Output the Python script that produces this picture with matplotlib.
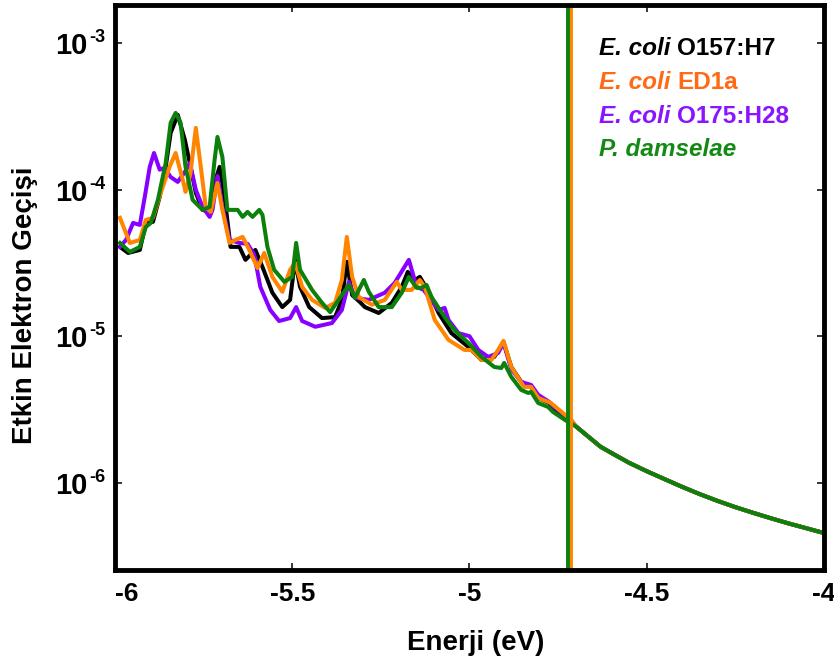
import matplotlib
matplotlib.use("Agg")
import matplotlib.pyplot as plt
from matplotlib.ticker import NullLocator

plt.rcParams['font.family'] = ['Liberation Sans', 'DejaVu Sans']
plt.rcParams['font.weight'] = 'bold'

# values
e_black = [-5.986, -5.963, -5.930, -5.913, -5.893, -5.874, -5.857, -5.843, -5.823, -5.803,
           -5.789, -5.772, -5.753, -5.733, -5.719, -5.705, -5.691, -5.674, -5.649, -5.632,
           -5.604, -5.584, -5.556, -5.528, -5.506, -5.492, -5.478, -5.452, -5.416, -5.379,
           -5.360, -5.346, -5.331, -5.309, -5.295, -5.256, -5.219, -5.191, -5.174, -5.154,
           -5.140, -5.115, -5.087, -5.051, -5.003, -4.966, -4.930, -4.904, -4.882, -4.854,
           -4.826, -4.806, -4.775, -4.742, -4.713]
t_black = [4.07e-5, 3.70e-5, 3.88e-5, 5.93e-5, 6.03e-5, 8.93e-5, 1.43e-4, 2.44e-4, 3.24e-4, 2.19e-4,
           1.52e-4, 9.51e-5, 7.28e-5, 7.05e-5, 1.11e-4, 1.43e-4, 8.93e-5, 4.07e-5, 4.07e-5, 3.32e-5,
           3.88e-5, 2.97e-5, 1.98e-5, 1.58e-5, 1.77e-5, 3.32e-5, 2.17e-5, 1.58e-5, 1.33e-5, 1.35e-5,
           1.77e-5, 3.22e-5, 1.91e-5, 1.71e-5, 1.58e-5, 1.44e-5, 1.69e-5, 2.17e-5, 2.75e-5, 2.42e-5,
           2.54e-5, 2.01e-5, 1.44e-5, 1.05e-5, 8.45e-6, 6.89e-6, 7.22e-6, 9.14e-6, 6.17e-6, 4.88e-6,
           4.51e-6, 3.79e-6, 3.50e-6, 2.90e-6, 2.60e-6]

e_orange = [-5.986, -5.958, -5.930, -5.913, -5.893, -5.871, -5.846, -5.829, -5.809, -5.801,
            -5.787, -5.772, -5.758, -5.744, -5.730, -5.711, -5.697, -5.677, -5.660, -5.640,
            -5.621, -5.598, -5.579, -5.556, -5.528, -5.506, -5.492, -5.472, -5.444, -5.407,
            -5.379, -5.360, -5.346, -5.331, -5.312, -5.275, -5.239, -5.205, -5.191, -5.163,
            -5.140, -5.126, -5.098, -5.059, -5.014, -4.994, -4.966, -4.938, -4.919, -4.904,
            -4.882, -4.846, -4.826, -4.806, -4.770, -4.713]
t_orange = [6.42e-5, 4.33e-5, 4.54e-5, 6.22e-5, 6.42e-5, 9.51e-5, 1.43e-4, 1.78e-4, 1.17e-4, 9.66e-5,
            1.30e-4, 2.64e-4, 1.43e-4, 7.63e-5, 7.05e-5, 1.11e-4, 7.28e-5, 4.33e-5, 4.54e-5, 4.76e-5,
            3.88e-5, 2.92e-5, 3.70e-5, 2.54e-5, 2.01e-5, 2.84e-5, 3.17e-5, 2.17e-5, 1.77e-5, 1.56e-5,
            1.69e-5, 2.42e-5, 4.76e-5, 2.54e-5, 1.85e-5, 1.64e-5, 1.77e-5, 2.35e-5, 2.07e-5, 2.07e-5,
            2.42e-5, 2.17e-5, 1.29e-5, 9.43e-6, 8.06e-6, 8.06e-6, 6.89e-6, 6.89e-6, 8.06e-6, 9.30e-6,
            6.17e-6, 4.51e-6, 4.51e-6, 3.79e-6, 3.50e-6, 2.68e-6]

e_purple = [-5.986, -5.969, -5.949, -5.930, -5.916, -5.902, -5.890, -5.874, -5.860, -5.843,
            -5.823, -5.803, -5.789, -5.772, -5.753, -5.733, -5.725, -5.711, -5.697, -5.677,
            -5.649, -5.626, -5.607, -5.590, -5.562, -5.537, -5.506, -5.489, -5.472, -5.435,
            -5.388, -5.360, -5.340, -5.323, -5.284, -5.239, -5.211, -5.171, -5.149, -5.129,
            -5.115, -5.087, -5.070, -5.059, -5.031, -5.000, -4.975, -4.947, -4.919, -4.904,
            -4.882, -4.854, -4.826, -4.806, -4.775, -4.761, -4.713]
t_purple = [4.07e-5, 4.54e-5, 5.93e-5, 5.75e-5, 8.93e-5, 1.43e-4, 1.78e-4, 1.37e-4, 1.41e-4, 1.22e-4,
            1.13e-4, 1.32e-4, 1.52e-4, 9.97e-5, 7.63e-5, 6.52e-5, 7.28e-5, 1.24e-4, 7.63e-5, 4.54e-5,
            4.33e-5, 4.27e-5, 3.59e-5, 2.17e-5, 1.51e-5, 1.27e-5, 1.33e-5, 1.58e-5, 1.27e-5, 1.16e-5,
            1.23e-5, 1.51e-5, 2.35e-5, 1.83e-5, 1.77e-5, 1.98e-5, 2.31e-5, 3.32e-5, 2.17e-5, 2.07e-5,
            1.85e-5, 1.51e-5, 1.56e-5, 1.29e-5, 1.05e-5, 1.00e-5, 8.06e-6, 7.22e-6, 7.69e-6, 9.00e-6,
            5.98e-6, 4.88e-6, 4.65e-6, 3.98e-6, 3.56e-6, 3.29e-6, 2.68e-6]

e_green = [-5.986, -5.958, -5.930, -5.913, -5.899, -5.879, -5.857, -5.843, -5.829, -5.815,
           -5.801, -5.781, -5.753, -5.733, -5.719, -5.711, -5.697, -5.683, -5.654, -5.640,
           -5.626, -5.612, -5.593, -5.584, -5.570, -5.551, -5.522, -5.500, -5.489, -5.478,
           -5.444, -5.416, -5.393, -5.340, -5.323, -5.298, -5.284, -5.256, -5.219, -5.191,
           -5.171, -5.149, -5.135, -5.121, -5.107, -5.070, -5.042, -5.003, -4.966, -4.930,
           -4.910, -4.902, -4.882, -4.854, -4.834, -4.826, -4.806, -4.778, -4.764, -4.722]
t_green = [4.33e-5, 3.76e-5, 4.07e-5, 5.57e-5, 5.93e-5, 8.52e-5, 1.52e-4, 2.86e-4, 3.34e-4, 2.86e-4,
           1.43e-4, 8.52e-5, 7.28e-5, 7.63e-5, 1.60e-4, 2.29e-4, 1.67e-4, 7.28e-5, 7.28e-5, 6.52e-5,
           7.05e-5, 6.52e-5, 7.28e-5, 6.73e-5, 4.07e-5, 2.84e-5, 2.35e-5, 2.54e-5, 4.33e-5, 2.84e-5,
           2.07e-5, 1.69e-5, 1.46e-5, 2.24e-5, 1.83e-5, 2.42e-5, 2.01e-5, 1.58e-5, 1.58e-5, 1.98e-5,
           2.54e-5, 2.14e-5, 2.14e-5, 2.24e-5, 1.85e-5, 1.35e-5, 1.10e-5, 9.00e-6, 7.22e-6, 6.17e-6,
           6.07e-6, 6.57e-6, 5.28e-6, 4.30e-6, 4.10e-6, 4.17e-6, 3.50e-6, 3.29e-6, 3.04e-6, 2.60e-6]

# smooth part above -4.7 eV, common to all four
e_tail = [-4.70, -4.66, -4.63, -4.60, -4.55, -4.50, -4.45, -4.40, -4.35, -4.30,
          -4.25, -4.20, -4.15, -4.10, -4.05, -4.00]
t_tail = [2.43e-6, 2.02e-6, 1.76e-6, 1.60e-6, 1.37e-6, 1.20e-6, 1.06e-6, 9.38e-7, 8.36e-7, 7.52e-7,
          6.82e-7, 6.24e-7, 5.73e-7, 5.28e-7, 4.90e-7, 4.54e-7]

fermi_orange = -4.713
fermi_green = -4.723

x_ticks = [-6, -5.5, -5, -4.5, -4]
x_labels = ['-6', '-5.5', '-5', '-4.5', '-4']
y_ticks = [1e-6, 1e-5, 1e-4, 1e-3]
y_exps = ['-6', '-5', '-4', '-3']

names_it = ['E. coli', 'E. coli', 'E. coli', 'P. damselae']
names_rest = ['O157:H7', 'ED1a', 'O175:H28', '']
line_colors = ['black', '#ff8400', '#8800ff', '#0b800b']
text_colors = ['black', '#ff6a14', '#8a14ff', '#148a14']

fig = plt.figure(figsize=(8.34, 6.69), dpi=100)
ax = fig.add_axes([0.1379, 0.148, 0.850, 0.8445])

series = [(e_black, t_black), (e_purple, t_purple), (e_orange, t_orange), (e_green, t_green)]
order_colors = [line_colors[0], line_colors[2], line_colors[1], line_colors[3]]
for (e, t), c in zip(series, order_colors):
    ax.plot(e + e_tail, t + t_tail, color=c, lw=2.9, solid_joinstyle='round')

ax.axvline(fermi_orange, color=line_colors[1], lw=2.8)
ax.axvline(fermi_green, color=line_colors[3], lw=2.8)

ax.set_yscale('log')
ax.set_xlim(-6, -4)
ax.set_ylim(2.54e-7, 1.82e-3)

ax.set_xticks(x_ticks)
ax.set_xticklabels(x_labels)
ax.set_yticks(y_ticks)
ax.set_yticklabels(['10'] * len(y_ticks))
ax.yaxis.set_minor_locator(NullLocator())
ax.xaxis.set_minor_locator(NullLocator())
ax.tick_params(direction='in', length=5, width=1.1, top=True, right=True, labelsize=19)
ax.tick_params(axis='x', pad=9)
ax.tick_params(axis='y', pad=19.5, labelsize=21)
ax.get_xticklabels()[0].set_horizontalalignment('left')

# exponents of the y tick labels
for v, ex in zip(y_ticks, y_exps):
    ax.annotate(ex, xy=(0, v), xycoords=('axes fraction', 'data'),
                xytext=(-18.5, 4), textcoords='offset points',
                ha='left', va='center', fontsize=13, fontweight='bold')

for s in ax.spines.values():
    s.set_linewidth(3.5)

ax.set_xlabel('Enerji (eV)', fontsize=20, fontweight='bold')
ax.xaxis.set_label_coords(0.509, -0.106)
ax.set_ylabel('Etkin Elektron Geçişi', fontsize=20, fontweight='bold')
ax.yaxis.set_label_coords(-0.108, 0.469)

# legend drawn as coloured text, genus part in italics
renderer = fig.canvas.get_renderer()
baselines = [55, 89, 123, 156]
W, H = 834.0, 669.0
for i in range(4):
    y = 1 - baselines[i] / H
    t = fig.text(599 / W, y, names_it[i], style='italic', fontweight='bold',
                 color=text_colors[i], fontsize=17.5, va='baseline')
    if names_rest[i]:
        bb = t.get_window_extent(renderer)
        fig.text((bb.x1 + 7) / W, y, names_rest[i], fontweight='bold',
                 color=text_colors[i], fontsize=17.5, va='baseline')

fig.savefig('out.png', dpi=100)
